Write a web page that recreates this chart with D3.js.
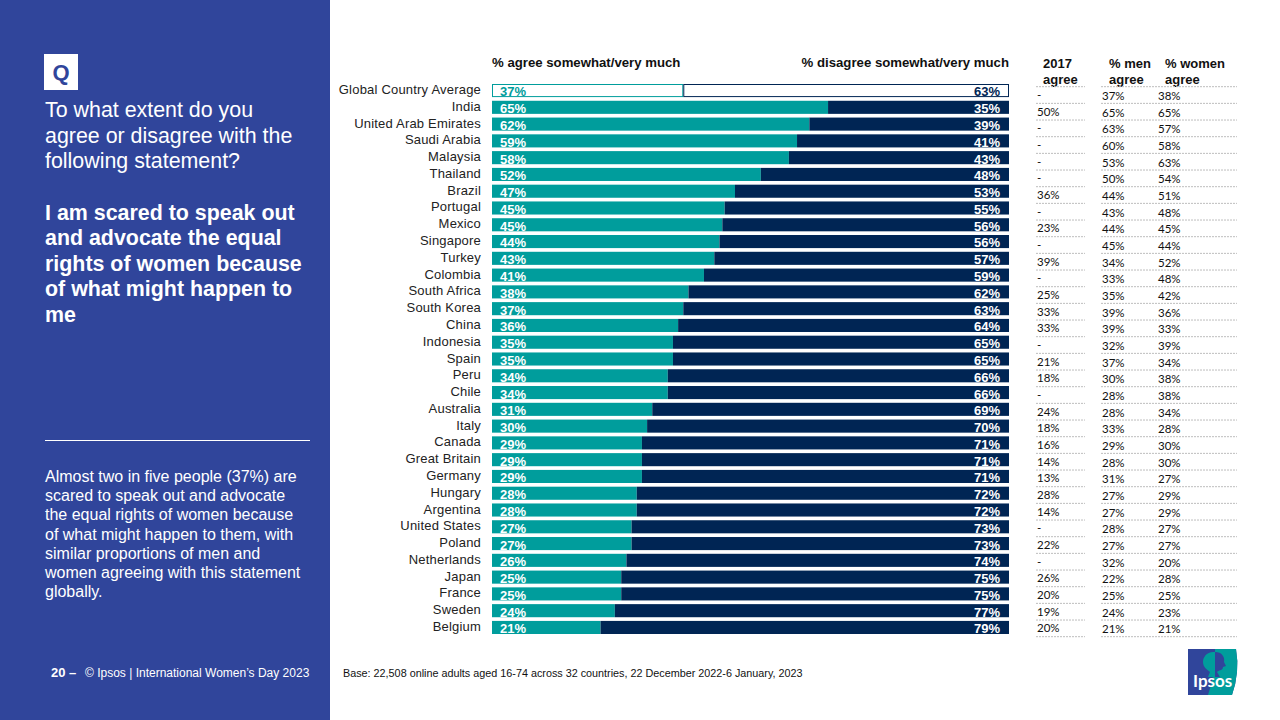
<!DOCTYPE html>
<html><head><meta charset="utf-8">
<script src="https://cdn.jsdelivr.net/npm/d3@7"></script>
<style>
html,body{margin:0;padding:0;background:#fff}
svg{display:block}
text{font-family:"Liberation Sans",Arial,sans-serif}
</style></head><body><svg id="c" width="1280" height="720"></svg>
<script>
const countries=["Global Country Average","India","United Arab Emirates","Saudi Arabia","Malaysia","Thailand","Brazil","Portugal","Mexico","Singapore","Turkey","Colombia","South Africa","South Korea","China","Indonesia","Spain","Peru","Chile","Australia","Italy","Canada","Great Britain","Germany","Hungary","Argentina","United States","Poland","Netherlands","Japan","France","Sweden","Belgium"];
const agree=[37,65,62,59,58,52,47,45,45,44,43,41,38,37,36,35,35,34,34,31,30,29,29,29,28,28,27,27,26,25,25,24,21];
const disagree=[63,35,39,41,43,48,53,55,56,56,57,59,62,63,64,65,65,66,66,69,70,71,71,71,72,72,73,73,74,75,75,77,79];
const y2017=[null,50,null,null,null,null,36,null,23,null,39,null,25,33,33,null,21,18,null,24,18,16,14,13,28,14,null,22,null,26,20,19,20];
const men=[37,65,63,60,53,50,44,43,44,45,34,33,35,39,39,32,37,30,28,28,33,29,28,31,27,27,28,27,32,22,25,24,21];
const women=[38,65,57,58,63,54,51,48,45,44,52,48,42,36,33,39,34,38,38,34,28,30,30,27,29,29,27,27,20,28,25,23,21];
const questionLines=["To what extent do you","agree or disagree with the","following statement?"];
const statementLines=["I am scared to speak out","and advocate the equal","rights of women because","of what might happen to","me"];
const bodyLines=["Almost two in five people (37%) are","scared to speak out and advocate","the equal rights of women because","of what might happen to them, with","similar proportions of men and","women agreeing with this statement","globally."];

const BLUE="#30459b",TEAL="#009d9c",NAVY="#002554";
const svg=d3.select("#c");
const rows=countries.map((c,i)=>({c,i,agree:agree[i],disagree:disagree[i]}));
const x=d3.scaleLinear().domain([0,1]).range([492,1009]);
const y=d3.scaleBand().domain(countries).range([84,634]).paddingInner(0.22);
const yT=d3.scaleBand().domain(countries).range([86.7,636.7]);
const stack=d3.stack().keys(["agree","disagree"]).offset(d3.stackOffsetExpand)(rows);

// left panel
svg.append("rect").attr("width",330).attr("height",720).attr("fill",BLUE);
svg.append("rect").attr("x",44).attr("y",54).attr("width",34).attr("height",36).attr("fill","#fff");
svg.append("text").attr("x",61).attr("y",80).attr("text-anchor","middle").attr("font-size",22).attr("font-weight",700).attr("fill",BLUE).text("Q");
const lp=(lines,y0,step,size,weight)=>svg.append("g").selectAll("text").data(lines).join("text")
  .attr("x",45).attr("y",(d,i)=>y0+i*step).attr("font-size",size).attr("font-weight",weight).attr("fill","#fff").text(d=>d);
lp(questionLines,117,25.5,21.4,400);
lp(statementLines,219.5,25.5,21.4,700);
lp(bodyLines,482,19.2,16,400);
svg.append("line").attr("x1",45).attr("x2",310).attr("y1",440.5).attr("y2",440.5).attr("stroke","#fff").attr("stroke-width",1);
svg.append("text").attr("x",51).attr("y",677).attr("font-size",13).attr("font-weight",700).attr("fill","#fff").text("20 –");
svg.append("text").attr("x",85).attr("y",677).attr("font-size",12).attr("fill","#fff").text("© Ipsos | International Women’s Day 2023");
svg.append("text").attr("x",343).attr("y",677).attr("font-size",10.8).attr("fill","#111").text("Base: 22,508 online adults aged 16-74 across 32 countries, 22 December 2022-6 January, 2023");

// headers
svg.append("text").attr("x",492).attr("y",66.5).attr("font-size",13.2).attr("font-weight",700).attr("fill","#111").text("% agree somewhat/very much");
svg.append("text").attr("x",1009).attr("y",66.5).attr("text-anchor","end").attr("font-size",13.2).attr("font-weight",700).attr("fill","#111").text("% disagree somewhat/very much");
[["2017","agree",1043],["% men","agree",1109],["% women","agree",1165]].forEach(([a,b,px])=>{
  svg.append("text").attr("x",px).attr("y",68).attr("font-size",13).attr("font-weight",700).attr("fill","#111").text(a);
  svg.append("text").attr("x",px).attr("y",84).attr("font-size",13).attr("font-weight",700).attr("fill","#111").text(b);
});

// country labels
svg.append("g").selectAll("text").data(rows).join("text")
  .attr("x",481).attr("y",d=>y(d.c)+y.bandwidth()/2+3.5)
  .attr("text-anchor","end")
  .attr("font-size",13).attr("letter-spacing",0.2).attr("fill","#222").text(d=>d.c);

// bars
const colors={agree:TEAL,disagree:NAVY};
stack.forEach(s=>{
  svg.append("g").selectAll("rect").data(s).join("rect")
    .attr("x",d=>x(d[0])+(d.data.i===0?0.5:0))
    .attr("y",d=>y(d.data.c)+(d.data.i===0?0.5:0))
    .attr("width",d=>x(d[1])-x(d[0])-(d.data.i===0?1:0))
    .attr("height",d=>y.bandwidth()-(d.data.i===0?1:0))
    .attr("fill",d=>d.data.i===0?"#fff":colors[s.key])
    .attr("stroke",d=>d.data.i===0?colors[s.key]:"none")
    .attr("stroke-width",1);
});
stack.forEach(s=>{
  const isA=s.key==="agree";
  svg.append("g").selectAll("text").data(s).join("text")
    .attr("x",isA?500:1000).attr("text-anchor",isA?"start":"end")
    .attr("y",d=>y(d.data.c)+y.bandwidth()-0.6)
    .attr("font-size",13).attr("font-weight",700)
    .attr("fill",d=>d.data.i===0?colors[s.key]:"#fff")
    .text(d=>d.data[s.key]+"%");
});

// table
const rule=(x1,x2)=>svg.append("g").selectAll("line").data(countries.concat(["__end"])).join("line")
  .attr("x1",x1).attr("x2",x2)
  .attr("y1",(d,i)=>86.7+i*yT.step()).attr("y2",(d,i)=>86.7+i*yT.step())
  .attr("stroke","#bdbdbd").attr("stroke-width",1).attr("stroke-dasharray","2 1");
rule(1036,1085);rule(1101,1237);
const fmt=v=>v==null?"-":v+"%";
const col=(vals,px,dy)=>svg.append("g").selectAll("text").data(vals).join("text")
  .attr("x",px).attr("y",(d,i)=>yT(countries[i])+yT.bandwidth()/2+dy)
  .style("font-family","Lato,Carlito,sans-serif")
  .attr("font-size",11.5).attr("fill","#111").text(fmt);
col(y2017,1037,3.8);col(men,1102,5);col(women,1158,5);

// logo
const logo=svg.append("g");
logo.append("path").attr("d","M1188,649 H1236 Q1240,672 1232,695 H1188 Z").attr("fill",BLUE);
logo.append("path").attr("d","M1215,649 H1236 Q1240,672 1232,695 H1208 Q1216,672 1215,649 Z").attr("fill",TEAL);
logo.append("path").attr("d","M1215,652 C1207,651 1203,657 1203,662 C1203,668 1208,670 1210,672 L1208,677 H1215 Z").attr("fill",TEAL);
logo.append("path").attr("d","M1215,652 C1222,652 1225,657 1224,662 L1226,666 L1223,667 C1223,671 1218,670 1217,672 L1220,677 H1215 Z").attr("fill",BLUE);
logo.append("text").attr("x",1193).attr("y",687).style("font-family","Lato,sans-serif").attr("font-size",17).attr("font-weight",700).attr("fill","#fff").text("Ipsos");
</script></body></html>
